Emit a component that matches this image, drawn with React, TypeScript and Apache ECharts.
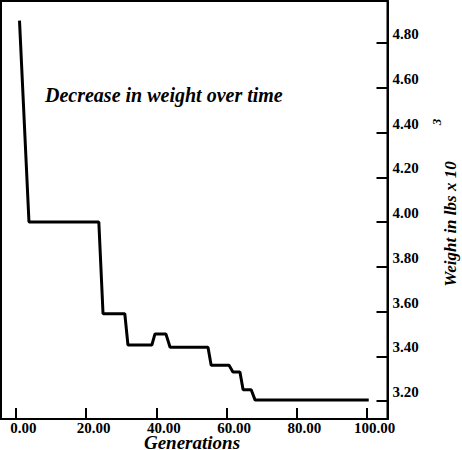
import React, { useEffect, useRef } from 'react';
import * as echarts from 'echarts';

// generations (x) and weight in lbs x 10^3 (y)
const generations = [1, 3.7, 23.6, 24.8, 31.0, 31.9, 38.7, 39.6, 42.7, 43.9, 54.7, 55.6, 60.7, 61.8, 63.8, 64.7, 67.0, 68.1, 100.5];
const weights = [4.9, 4.0, 4.0, 3.59, 3.59, 3.45, 3.45, 3.5, 3.5, 3.44, 3.44, 3.36, 3.36, 3.33, 3.33, 3.25, 3.25, 3.205, 3.205];
const xTicks = [0, 20, 40, 60, 80, 100];
const yTicks = [3.2, 3.4, 3.6, 3.8, 4.0, 4.2, 4.4, 4.6, 4.8];

const SERIF = '"Liberation Serif", "Times New Roman", serif';

const labelFont = {
  fontFamily: SERIF,
  fontSize: 15,
  fontWeight: 'bold',
  color: '#000'
};

const App: React.FC = () => {
  const chartRef = useRef<HTMLDivElement>(null);

  useEffect(() => {
    if (!chartRef.current) return;
    const chart = echarts.init(chartRef.current, undefined, { renderer: 'svg' });

    const option = {
      animation: false,
      backgroundColor: '#fff',
      title: {
        text: 'Decrease in weight over time',
        left: 40,
        top: 80,
        textStyle: {
          fontFamily: SERIF,
          fontSize: 20,
          fontWeight: 'bold',
          fontStyle: 'italic',
          color: '#000'
        }
      },
      grid: {
        left: 1,
        top: 1,
        right: 74.5,
        bottom: 31,
        outerBoundsMode: 'none',
        show: true,
        borderColor: '#000',
        borderWidth: 2
      },
      xAxis: {
        type: 'value',
        min: -4.27,
        max: 105.84,
        axisLine: { show: true, onZero: false, lineStyle: { color: '#000', width: 2 } },
        axisTick: {
          show: true,
          inside: true,
          length: 11,
          customValues: xTicks,
          lineStyle: { color: '#000', width: 2 }
        },
        axisLabel: {
          customValues: xTicks,
          formatter: (v: number) => `{t|${v.toFixed(2)}}`,
          margin: 9,
          verticalAlign: 'middle',
          rich: {
            t: { ...labelFont, padding: [0, 0, 0, 15] }
          }
        },
        splitLine: { show: false }
      },
      yAxis: {
        type: 'value',
        position: 'right',
        min: 3.1196,
        max: 4.988,
        axisLine: { show: true, onZero: false, lineStyle: { color: '#000', width: 2 } },
        axisTick: {
          show: true,
          inside: true,
          length: 11,
          customValues: yTicks,
          lineStyle: { color: '#000', width: 2 }
        },
        axisLabel: {
          customValues: yTicks,
          formatter: (v: number) => `{t|${v.toFixed(2)}}`,
          margin: 5,
          verticalAlign: 'middle',
          rich: {
            t: { ...labelFont, padding: [0, 0, 18, 0] }
          }
        },
        splitLine: { show: false }
      },
      graphic: [
        {
          type: 'text',
          x: 192,
          y: 442,
          style: {
            text: 'Generations',
            align: 'center',
            verticalAlign: 'middle',
            fill: '#000',
            font: `italic bold 19px ${SERIF}`
          }
        },
        {
          type: 'text',
          x: 450,
          y: 224,
          rotation: Math.PI / 2,
          style: {
            text: 'Weight in lbs x 10',
            align: 'center',
            verticalAlign: 'middle',
            fill: '#000',
            font: `italic bold 17px ${SERIF}`
          }
        },
        {
          type: 'text',
          x: 436,
          y: 122,
          rotation: Math.PI / 2,
          style: {
            text: '3',
            align: 'center',
            verticalAlign: 'middle',
            fill: '#000',
            font: `italic bold 13px ${SERIF}`
          }
        }
      ],
      series: [
        {
          name: 'Weight',
          type: 'line',
          showSymbol: false,
          data: generations.map((g, i) => [g, weights[i]]),
          lineStyle: { color: '#000', width: 3 }
        }
      ]
    };

    chart.setOption(option);

    return () => {
      chart.dispose();
    };
  }, []);

  return (
    <div
      ref={chartRef}
      style={{ position: 'fixed', left: 0, top: 0, width: 462, height: 450 }}
    />
  );
};

export default App;
